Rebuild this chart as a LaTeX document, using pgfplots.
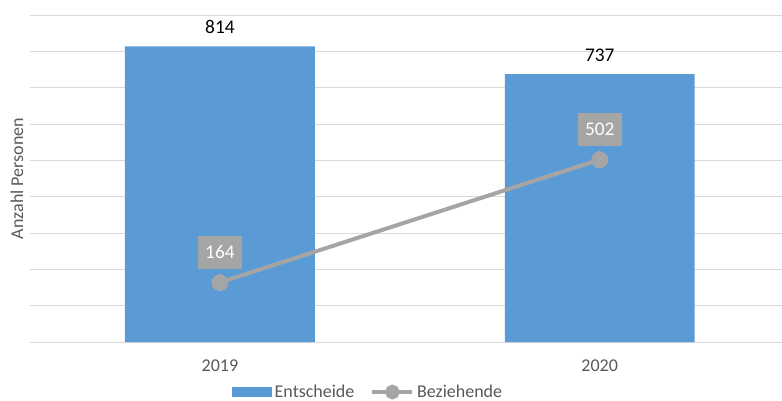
\documentclass[border=0pt]{standalone}
\usepackage{pgfplots}
\pgfplotsset{compat=1.18}
\usepackage{fontspec}
\setmainfont{Carlito}
\definecolor{barblue}{HTML}{5B9BD5}
\definecolor{linegray}{HTML}{A5A5A5}
\definecolor{gridgray}{HTML}{D9D9D9}
\definecolor{textgray}{HTML}{595959}
\begin{document}
\begin{tikzpicture}
\begin{axis}[
 at={(0,0)}, anchor=south west,
 scale only axis, width=564pt, height=245.25pt,
 xmin=-0.5, xmax=1.48, ymin=0, ymax=900,
 xtick={0,1}, xticklabels={2019,2020},
 ytick={0,100,...,900}, yticklabels={},
 ymajorgrids, grid style={gridgray, line width=0.75pt},
 axis line style={draw=none},
 major tick length=0pt,
 /pgf/number format/assume math mode=true,
 xticklabel style={anchor=center, yshift=-18pt, font=\fontsize{13.5}{16}\selectfont, text=textgray},
 ylabel={Anzahl Personen},
 ylabel style={at={(axis description cs:-0.0173,0.5)}, anchor=center, font=\fontsize{13.5}{16}\selectfont, text=textgray},
 legend style={at={(axis description cs:0.45,-0.153)}, anchor=center, draw=none, fill=none,
   legend columns=2, font=\fontsize{13.5}{16}\selectfont, text=textgray,
   /tikz/every even column/.append style={column sep=10pt}},
 clip=false,
]
\addplot[ybar, bar width=0.5, fill=barblue, draw=none,
  nodes near coords,
  every node near coord/.style={anchor=center, yshift=14.25pt, font=\fontsize{14.5}{16}\selectfont, text=black},
  legend image code/.code={\fill[barblue] (0pt,-3.75pt) rectangle (30pt,3.75pt);}
] coordinates {(0,814) (1,737)};
\addlegendentry{Entscheide}
\addplot[linegray, line width=3pt, mark=*, mark size=6pt, mark options={fill=linegray, draw=linegray, line width=0pt},
  nodes near coords,
  every node near coord/.style={anchor=center, yshift=22.5pt, font=\fontsize{14.5}{16}\selectfont, text=white,
    fill=linegray, minimum width=33pt, minimum height=24.75pt, inner sep=0pt},
  legend image code/.code={\draw[linegray, line width=3pt] (0pt,0pt)--(30pt,0pt); \fill[linegray] (15pt,0pt) circle (4pt);}
] coordinates {(0,164) (1,502)};
\addlegendentry{Beziehende}
\end{axis}
\pgfresetboundingbox
\path[use as bounding box] (-22.5pt,-43.5pt) rectangle (564pt,256.5pt);
\end{tikzpicture}
\end{document}
